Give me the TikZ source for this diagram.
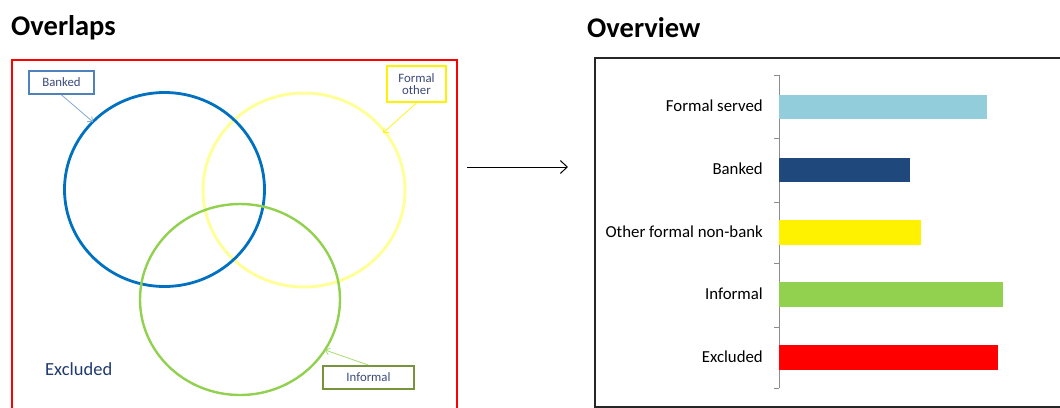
\documentclass[tikz,border=0pt]{standalone}
\usepackage{fontspec}
\setmainfont{Carlito}
\usetikzlibrary{arrows.meta}
\definecolor{cblue}{HTML}{0070C0}
\definecolor{cyel}{HTML}{FFFF99}
\definecolor{cgreen}{HTML}{92D050}
\definecolor{boxblue}{HTML}{4F81BD}
\definecolor{boxgreen}{HTML}{77933C}
\definecolor{labtxt}{HTML}{3B4A7A}
\definecolor{navy}{HTML}{1F3A6E}
\definecolor{barlight}{HTML}{92CDDC}
\definecolor{bardark}{HTML}{1F497D}
\definecolor{axisgray}{HTML}{8C8C8C}
\tikzset{
  title/.style={font=\bfseries\fontsize{28.5}{30}\selectfont, anchor=west, inner sep=0pt},
  callout/.style={draw, line width=1.8pt, text=labtxt, font=\fontsize{12.8}{14}\selectfont, align=center, inner sep=0pt},
  pointer/.style={line width=0.8pt, -{Straight Barb[length=4pt,width=7pt]}},
  barlabel/.style={anchor=east, font=\fontsize{16.8}{18}\selectfont, inner sep=0pt},
  bar/.style={draw=none}
}
\begin{document}
\begin{tikzpicture}[x=1pt,y=-1pt]
\useasboundingbox (0,0) rectangle (1060,407);
% titles
\node[title] (t1) at (11,28) {Overlaps};
\node[title] (t2) at (587,28) {Overview};
% left frame
\draw[red, line width=2pt] (12,60) rectangle (457,410);
% circles
\draw[cyel, line width=3pt] (304,190) ellipse [x radius=101, y radius=97];
\draw[cblue, line width=2.8pt] (164.5,189.5) ellipse [x radius=100, y radius=97];
\draw[cgreen, line width=2.4pt] (240,299.5) ellipse [x radius=100, y radius=95.5];
\coordinate (pb) at (93,122);
\coordinate (py) at (383,133);
\coordinate (pg) at (325,350);
% callouts
\node[callout, draw=boxblue, minimum width=65pt, minimum height=23pt] (bk) at (61.5,82.5) {Banked};
\node[callout, draw=yellow, minimum width=59pt, minimum height=36pt] (fo) at (416.5,84) {Formal\\[-2pt]other};
\node[callout, draw=boxgreen, minimum width=91pt, minimum height=23pt] (inf) at (368.5,377.5) {Informal};
\draw[pointer, boxblue!70] (bk.south) -- (pb);
\draw[pointer, yellow!90] (fo.south) -- (py);
\draw[pointer, cgreen!80] (inf.north) -- (pg);
\node[anchor=west, text=navy, font=\fontsize{18.5}{20}\selectfont, inner sep=0pt] (exc) at (45,369) {Excluded};
% middle arrow
\coordinate (a1) at (467,167);
\coordinate (a2) at (568,167);
\draw[line width=1pt, -{Straight Barb[length=7pt,width=13pt]}] (a1) -- (a2);
% right frame
\draw[black!85, line width=2pt] (595,58) rectangle (1065,407);
% axis
\draw[axisgray, line width=0.8pt] (779,75) -- (779,388);
\foreach \yy in {75,138,202,263,327,388} \draw[axisgray, line width=0.8pt] (774,\yy) -- (779,\yy);
% bars
\fill[barlight] (779,95) rectangle (987,119);
\fill[bardark] (779,158) rectangle (910,182);
\fill[yellow] (779,220) rectangle (921,245);
\fill[cgreen] (779,282) rectangle (1003,307);
\fill[red] (779,345) rectangle (998,370);
\node[barlabel] (l1) at (763,106) {Formal served};
\node[barlabel] (l2) at (763,169) {Banked};
\node[barlabel] (l3) at (763,232) {Other formal non-bank};
\node[barlabel] (l4) at (763,294) {Informal};
\node[barlabel] (l5) at (763,357) {Excluded};
\end{tikzpicture}
\end{document}
